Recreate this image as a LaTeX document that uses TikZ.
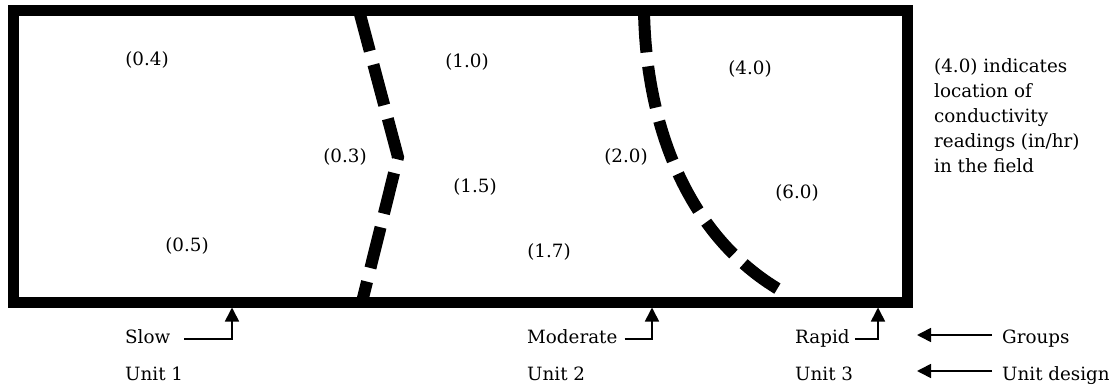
\documentclass[tikz,border=0pt]{standalone}
\usepackage{fontspec}
\setmainfont{DejaVu Serif}
\usetikzlibrary{arrows.meta}
\begin{document}
\begin{tikzpicture}[x=1pt,y=-1pt,
  every node/.style={font=\fontsize{18.3}{25}\selectfont, inner sep=0pt},
  border/.style={line width=11pt},
  zone/.style={line width=12pt, dash pattern=on 42pt off 14pt},
  ptr/.style={line width=1.6pt, -{Triangle[width=14pt,length=14pt]}},
  lbl/.style={anchor=base west}]
\useasboundingbox (0,0) rectangle (1109,385);
% field boundary
\draw[border] (13.5,10.5) rectangle (907.5,302);
% unit boundaries
\coordinate (b1top) at (359,10.5);
\coordinate (b1mid) at (398,157);
\coordinate (b1bot) at (362,302);
\draw[zone] (b1top) -- (b1mid) -- (b1bot);
\coordinate (b2top) at (644,10.5);
\coordinate (b2bot) at (785,293);
\draw[zone] (b2top) .. controls (646,130) and (690,240) .. (b2bot);
% readings
\node (r04) at (147,60) {(0.4)};
\node (r10) at (467,62) {(1.0)};
\node (r40) at (750,69) {(4.0)};
\node (r03) at (345,157) {(0.3)};
\node (r20) at (626,157) {(2.0)};
\node (r15) at (475,187) {(1.5)};
\node (r60) at (797,193) {(6.0)};
\node (r05) at (187,246) {(0.5)};
\node (r17) at (549,252) {(1.7)};
% legend
\node[anchor=north west, align=left] (legend) at (934,58) {(4.0) indicates\\location of\\conductivity\\readings (in/hr)\\in the field};
% groups and units
\node[lbl] (slow) at (125,343) {Slow};
\node[lbl] (moderate) at (527,343) {Moderate};
\node[lbl] (rapid) at (795,343) {Rapid};
\node[lbl] (groups) at (1002,343) {Groups};
\node[lbl] (unit1) at (125,380) {Unit 1};
\node[lbl] (unit2) at (527,380) {Unit 2};
\node[lbl] (unit3) at (795,380) {Unit 3};
\node[lbl] (unitdesign) at (1002,380) {Unit design};
\coordinate (t1) at (232,307.5);
\coordinate (t2) at (652,307.5);
\coordinate (t3) at (878,307.5);
\draw[ptr] ([shift={(14,-4)}]slow.base east) -| (t1);
\draw[ptr] ([shift={(7,-4)}]moderate.base east) -| (t2);
\draw[ptr] ([shift={(5,-4)}]rapid.base east) -| (t3);
\coordinate (g1) at (917,335);
\coordinate (g2) at (917,371);
\draw[ptr] ([shift={(-10,-8)}]groups.base west) -- (g1);
\draw[ptr] ([shift={(-10,-9)}]unitdesign.base west) -- (g2);
\end{tikzpicture}
\end{document}
